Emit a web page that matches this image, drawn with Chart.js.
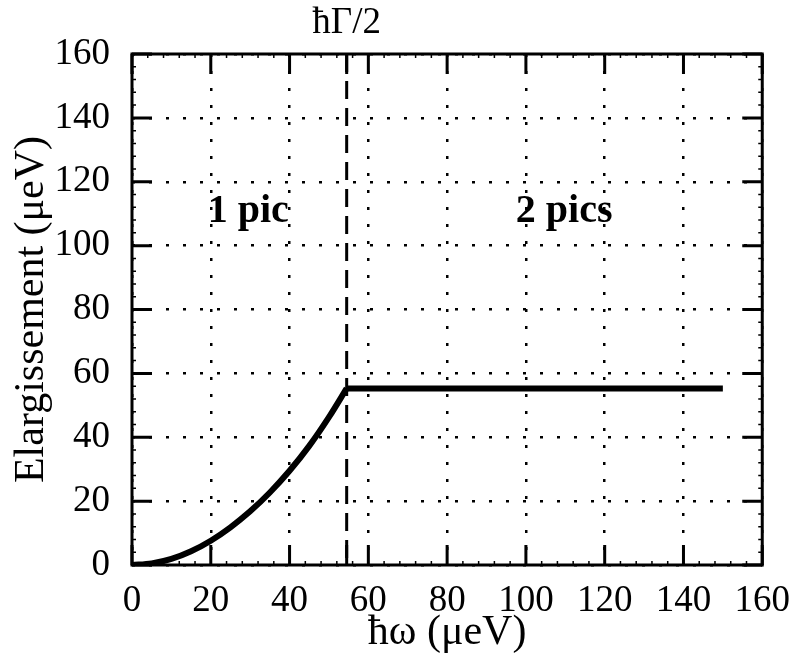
<!DOCTYPE html>
<html>
<head>
<meta charset="utf-8">
<title>Elargissement</title>
<script src="https://cdn.jsdelivr.net/npm/chart.js@4/dist/chart.umd.min.js"></script>
<style>
  body { margin: 0; background: #fff; }
  #chart { display: block; }
</style>
</head>
<body>
<canvas id="chart" width="804" height="660"></canvas>
<script>
  // rising part of the curve (µeV)
  const risingOmega = [0, 5, 10, 15, 20, 25, 30, 35, 40, 45, 50, 54.5];
  const risingBroadening = [0, 0.5, 1.9, 4.3, 7.6, 11.8, 16.8, 22.7, 29.5, 37.3, 46.3, 55.3];
  // flat part after hbar Gamma / 2
  const plateauOmega = [54.5, 150];
  const plateauBroadening = [55.3, 55.3];
  const xTicks = [0, 20, 40, 60, 80, 100, 120, 140, 160];
  const yTicks = [0, 20, 40, 60, 80, 100, 120, 140, 160];
  const halfGamma = 54.5;
  const halfGammaLabel = 'ħΓ/2';
  const regionLabels = ['1 pic', '2 pics'];
  const regionCentres = [29.5, 109.7];
  const regionLevel = 110.5;

  const serif = "'Liberation Serif', 'Times New Roman', serif";

  const framePlugin = {
    id: 'frame',
    afterDatasetsDraw: (chart) => {
      const ctx = chart.ctx;
      const { left, right, top, bottom } = chart.chartArea;
      const xs = chart.scales.x;
      const ys = chart.scales.y;

      ctx.save();
      ctx.strokeStyle = '#000';
      ctx.lineCap = 'butt';

      // dashed line at hbar Gamma / 2
      const xg = xs.getPixelForValue(halfGamma);
      ctx.lineWidth = 3;
      ctx.setLineDash([18, 9]);
      ctx.beginPath();
      ctx.moveTo(xg, top);
      ctx.lineTo(xg, bottom);
      ctx.stroke();
      ctx.setLineDash([]);

      // inward major ticks
      const major = 20;
      ctx.lineWidth = 3;
      ctx.beginPath();
      xTicks.forEach((v) => {
        const px = xs.getPixelForValue(v);
        ctx.moveTo(px, bottom); ctx.lineTo(px, bottom - major);
        ctx.moveTo(px, top); ctx.lineTo(px, top + major);
      });
      yTicks.forEach((v) => {
        const py = ys.getPixelForValue(v);
        ctx.moveTo(left, py); ctx.lineTo(left + major, py);
        ctx.moveTo(right, py); ctx.lineTo(right - major, py);
      });
      ctx.moveTo(xg, bottom); ctx.lineTo(xg, bottom - major);
      ctx.moveTo(xg, top); ctx.lineTo(xg, top + major);
      ctx.stroke();

      // small minor ticks
      ctx.lineWidth = 1.5;
      ctx.beginPath();
      for (let v = 4; v < 160; v += 4) {
        if (v % 20 === 0) continue;
        const px = xs.getPixelForValue(v);
        const py = ys.getPixelForValue(v);
        ctx.moveTo(px, bottom); ctx.lineTo(px, bottom - 4);
        ctx.moveTo(px, top); ctx.lineTo(px, top + 4);
        ctx.moveTo(left, py); ctx.lineTo(left + 4, py);
        ctx.moveTo(right, py); ctx.lineTo(right - 4, py);
      }
      ctx.stroke();

      // frame
      ctx.lineWidth = 3;
      ctx.strokeRect(left, top, right - left, bottom - top);

      // texts
      ctx.fillStyle = '#000';
      ctx.textAlign = 'center';
      ctx.textBaseline = 'middle';
      ctx.font = `37px ${serif}`;
      ctx.fillText(halfGammaLabel, xg, top - 31);

      ctx.font = `bold 40px ${serif}`;
      regionLabels.forEach((txt, i) => {
        ctx.fillText(txt, xs.getPixelForValue(regionCentres[i]), ys.getPixelForValue(regionLevel));
      });
      ctx.restore();
    }
  };

  const tickFont = { family: serif, size: 37 };
  const titleFont = { family: serif, size: 42 };

  const lineStyle = {
    borderColor: '#000',
    borderWidth: 6,
    pointRadius: 0,
    fill: false
  };

  new Chart(document.getElementById('chart'), {
    type: 'line',
    data: {
      datasets: [{
        ...lineStyle,
        data: risingOmega.map((x, i) => ({ x, y: risingBroadening[i] })),
        cubicInterpolationMode: 'monotone'
      }, {
        ...lineStyle,
        data: plateauOmega.map((x, i) => ({ x, y: plateauBroadening[i] }))
      }]
    },
    options: {
      responsive: false,
      animation: false,
      devicePixelRatio: 1,
      layout: { padding: { top: 54, right: 40, left: 0, bottom: 0 } },
      plugins: { legend: { display: false }, tooltip: { enabled: false } },
      scales: {
        x: {
          type: 'linear',
          min: 0,
          max: 160,
          afterFit: (scale) => { scale.height = 95; },
          afterBuildTicks: (scale) => { scale.ticks = xTicks.map((value) => ({ value })); },
          ticks: { color: '#000', font: tickFont, padding: 14, maxRotation: 0, autoSkip: false },
          grid: { color: '#000', lineWidth: 2.5, drawTicks: false },
          border: { display: false, dash: [3, 14] },
          title: { display: true, text: 'ħω (μeV)', color: '#000', font: titleFont, padding: { top: 0, bottom: 2 } }
        },
        y: {
          type: 'linear',
          min: 0,
          max: 160,
          afterFit: (scale) => { scale.width = 132; },
          afterBuildTicks: (scale) => { scale.ticks = yTicks.map((value) => ({ value })); },
          ticks: { color: '#000', font: tickFont, padding: 22, autoSkip: false },
          grid: { color: '#000', lineWidth: 2.5, drawTicks: false },
          border: { display: false, dash: [3, 14] },
          title: { display: true, text: 'Elargissement (μeV)', color: '#000', font: titleFont, padding: { top: 7, bottom: 0 } }
        }
      }
    },
    plugins: [framePlugin]
  });
</script>
</body>
</html>
